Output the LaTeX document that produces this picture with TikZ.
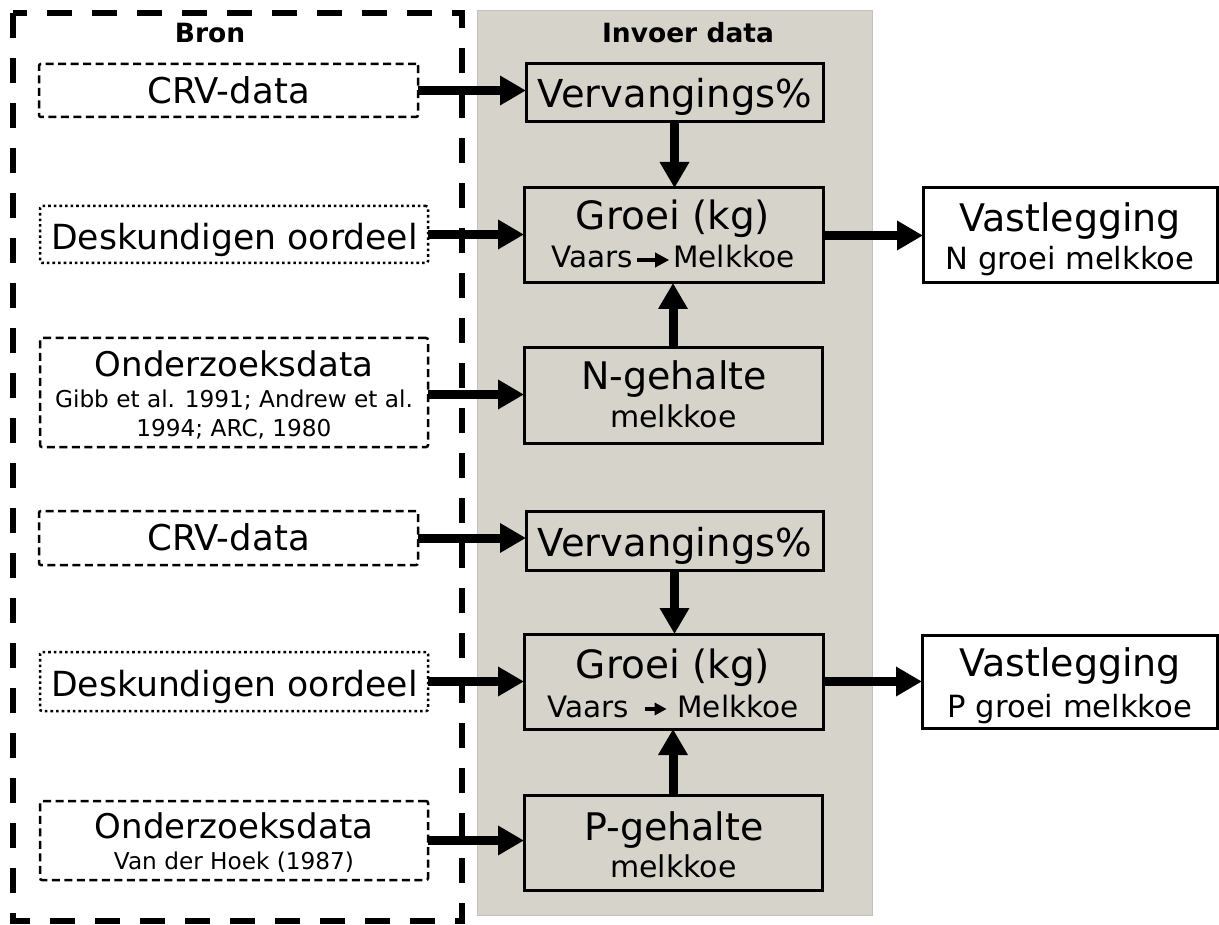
\documentclass[tikz,border=0pt]{standalone}
\usepackage{fontspec}
\setmainfont{DejaVu Sans}
\usetikzlibrary{arrows.meta}

\definecolor{panel}{HTML}{D6D3CB}
\definecolor{panelline}{HTML}{C4C1BA}

% font size helper (1pt = 1 unit of the drawing grid)
\newcommand\fsz[1]{\fontsize{#1pt}{#1pt}\selectfont}

% small arrows used inside the text "Vaars -> Melkkoe"
\newcommand\vmarrowA{\tikz[baseline={(0pt,-8pt)}]\draw[line width=4pt,-{Triangle[length=14pt,width=14pt]}] (0pt,0pt) -- (32pt,0pt);}
\newcommand\vmarrowB{\tikz[baseline={(0pt,-8pt)}]\draw[line width=3.4pt,-{Triangle[length=12pt,width=12pt]}] (0pt,0pt) -- (22pt,0pt);}

\tikzset{
  every node/.style={inner sep=0pt, outer sep=0pt},
  srcbox/.style={draw, line width=2.5pt, rounded corners=2pt},
  srcdash/.style={srcbox, dash pattern=on 8pt off 4.5pt},
  srcdot/.style={srcbox, dash pattern=on 2.6pt off 3pt},
  inbox/.style={draw, line width=3pt, fill=panel},
  outbox/.style={draw, line width=3pt, fill=white},
  flow/.style={line width=9pt, -{Triangle[length=26pt,width=28pt]}},
  txt/.style={anchor=base},
  title/.style={anchor=base, font=\fsz{26.5}\bfseries},
  frame/.style={line width=6.5pt, dash pattern=on 25pt off 20pt},
}

\begin{document}
\begin{tikzpicture}[x=1pt, y=-1pt]
\useasboundingbox (0,0) rectangle (1219,925);

% grey column with the input data
\filldraw[fill=panel, draw=panelline, line width=1pt] (477,11) rectangle (872,915);

% dashed frame round the sources
\draw[frame] (13,13) rectangle (462,921);

% titles
\node[title] (titleBron) at (210,42.7) {Bron};
\node[title] (titleInv) at (688,42.7) {Invoer data};

% ---- sources ----
\node[srcdash, minimum width=379pt, minimum height=53pt] (crv1) at (228.5,90.5) {};
\node[srcdot,  minimum width=388pt, minimum height=57pt] (desk1) at (234,234.5) {};
\node[srcdash, minimum width=388pt, minimum height=109pt] (ond1) at (234,392.5) {};
\node[srcdash, minimum width=379pt, minimum height=54pt] (crv2) at (228.5,538) {};
\node[srcdot,  minimum width=388pt, minimum height=59pt] (desk2) at (234,681.5) {};
\node[srcdash, minimum width=388pt, minimum height=79pt] (ond2) at (234,840.5) {};

\node[txt, font=\fsz{35.5}] (crv1t) at (228.5,103.3) {CRV-data};
\node[txt, font=\fsz{34.6}] (desk1t) at (234.5,249.3) {Deskundigen oordeel};
\node[txt, font=\fsz{34}] (ond1t) at (234,377) {Onderzoeksdata};
\node[txt, font=\fsz{23.2}] (ond1r1) at (234,408) {Gibb et al. 1991; Andrew et al.};
\node[txt, font=\fsz{23.2}] (ond1r2) at (234,436) {1994; ARC, 1980};
\node[txt, font=\fsz{35.5}] (crv2t) at (228.5,550) {CRV-data};
\node[txt, font=\fsz{34.6}] (desk2t) at (234.5,696) {Deskundigen oordeel};
\node[txt, font=\fsz{34}] (ond2t) at (234,838) {Onderzoeksdata};
\node[txt, font=\fsz{23.2}] (ond2r) at (234,869) {Van der Hoek (1987)};

% ---- input data ----
\node[inbox, minimum width=297pt, minimum height=58pt] (verv1) at (674.5,93) {};
\node[inbox, minimum width=299pt, minimum height=95pt] (groei1) at (673.5,235.5) {};
\node[inbox, minimum width=298pt, minimum height=95pt] (ngeh) at (673,395.5) {};
\node[inbox, minimum width=297pt, minimum height=59pt] (verv2) at (674.5,540.5) {};
\node[inbox, minimum width=299pt, minimum height=95pt] (groei2) at (673.5,681.5) {};
\node[inbox, minimum width=298pt, minimum height=95pt] (pgeh) at (673,842.5) {};

\node[txt, font=\fsz{38.5}] (verv1t) at (675,107.3) {Vervangings\%};
\node[txt, font=\fsz{39}] (groei1t) at (673,230) {Groei (kg)};
\node[txt, font=\fsz{29.5}] (groei1s) at (673,268) {Vaars\hspace{2pt}\vmarrowA\hspace{2pt}Melkkoe};
\node[txt, font=\fsz{38}] (ngeht) at (674,390) {N-gehalte};
\node[txt, font=\fsz{30}] (ngehs) at (673.5,428) {melkkoe};
\node[txt, font=\fsz{38.5}] (verv2t) at (675,556) {Vervangings\%};
\node[txt, font=\fsz{39}] (groei2t) at (673,678) {Groei (kg)};
\node[txt, font=\fsz{29.5}] (groei2s) at (673,717) {Vaars\hspace{14pt}\vmarrowB\hspace{9pt}Melkkoe};
\node[txt, font=\fsz{38}] (pgeht) at (674,840) {P-gehalte};
\node[txt, font=\fsz{30}] (pgehs) at (673.5,877) {melkkoe};

% ---- results ----
\node[outbox, minimum width=294pt, minimum height=95pt] (vastN) at (1070,235.5) {};
\node[outbox, minimum width=295pt, minimum height=93pt] (vastP) at (1069.5,681.5) {};

\node[txt, font=\fsz{38}] (vastNt) at (1070,232) {Vastlegging};
\node[txt, font=\fsz{30.6}] (vastNs) at (1070,270) {N groei melkkoe};
\node[txt, font=\fsz{38}] (vastPt) at (1070,676) {Vastlegging};
\node[txt, font=\fsz{30.6}] (vastPs) at (1070,717) {P groei melkkoe};

% ---- connectors ----
\draw[flow] (crv1.east) -- (crv1.east -| verv1.west);
\draw[flow] (desk1.east) -- (desk1.east -| groei1.west);
\draw[flow] ([yshift=-2pt]ond1.east) -- ([yshift=-2pt]ond1.east -| ngeh.west);
\draw[flow] (verv1.south) -- (verv1.south |- groei1.north);
\draw[flow] (ngeh.north) -- (ngeh.north |- groei1.south);
\draw[flow] (groei1.east) -- (groei1.east -| vastN.west);

\draw[flow] (crv2.east) -- (crv2.east -| verv2.west);
\draw[flow] (desk2.east) -- (desk2.east -| groei2.west);
\draw[flow] (ond2.east) -- (ond2.east -| pgeh.west);
\draw[flow] (verv2.south) -- (verv2.south |- groei2.north);
\draw[flow] (pgeh.north) -- (pgeh.north |- groei2.south);
\draw[flow] (groei2.east) -- (groei2.east -| vastP.west);
\end{tikzpicture}
\end{document}
